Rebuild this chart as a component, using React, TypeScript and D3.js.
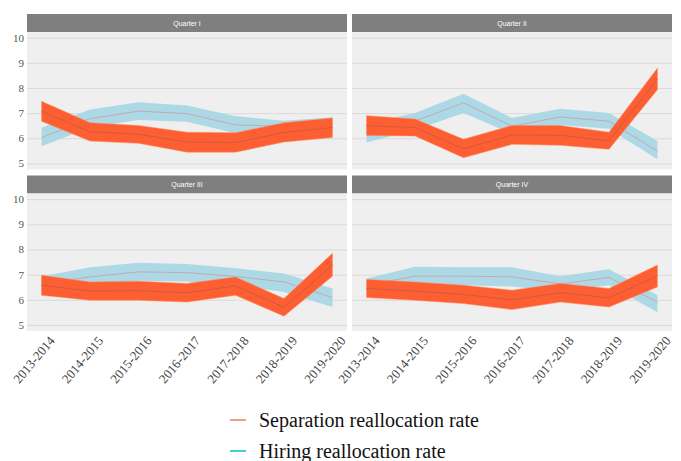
import React from "react";
import * as d3 from "d3";

const periods = ["2013-2014", "2014-2015", "2015-2016", "2016-2017", "2017-2018", "2018-2019", "2019-2020"];
const quarters = ["Quarter I", "Quarter II", "Quarter III", "Quarter IV"];
const yTicks = [5, 6, 7, 8, 9, 10];
const seriesNames = ["Separation reallocation rate", "Hiring reallocation rate"];

const sepQ1 = [7.1, 6.28, 6.18, 5.87, 5.85, 6.25, 6.45];
const sepQ1Lo = [6.7, 5.91, 5.82, 5.47, 5.47, 5.87, 6.05];
const sepQ1Hi = [7.49, 6.64, 6.53, 6.26, 6.24, 6.64, 6.83];
const hirQ1 = [6.05, 6.8, 7.1, 7.0, 6.55, 6.5, 6.55];
const hirQ1Lo = [5.7, 6.45, 6.75, 6.68, 6.22, 6.28, 6.25];
const hirQ1Hi = [6.44, 7.16, 7.45, 7.32, 6.9, 6.72, 6.86];

const sepQ2 = [6.52, 6.45, 5.6, 6.15, 6.14, 5.92, 8.38];
const sepQ2Lo = [6.13, 6.11, 5.25, 5.78, 5.74, 5.58, 7.95];
const sepQ2Hi = [6.92, 6.79, 5.98, 6.53, 6.53, 6.26, 8.81];
const hirQ2 = [6.2, 6.7, 7.43, 6.5, 6.87, 6.7, 5.51];
const hirQ2Lo = [5.85, 6.35, 7.03, 6.2, 6.55, 6.4, 5.19];
const hirQ2Hi = [6.6, 7.03, 7.79, 6.83, 7.19, 7.03, 5.91];

const sepQ3 = [6.6, 6.37, 6.38, 6.3, 6.57, 5.72, 7.4];
const sepQ3Lo = [6.2, 6.0, 6.0, 5.93, 6.2, 5.37, 6.96];
const sepQ3Hi = [7.0, 6.73, 6.76, 6.67, 6.93, 6.07, 7.87];
const hirQ3 = [6.65, 6.93, 7.13, 7.1, 6.95, 6.73, 6.11];
const hirQ3Lo = [6.35, 6.6, 6.78, 6.75, 6.6, 6.33, 5.73];
const hirQ3Hi = [6.95, 7.31, 7.49, 7.44, 7.27, 7.07, 6.47];

const sepQ4 = [6.47, 6.37, 6.23, 6.02, 6.3, 6.1, 6.97];
const sepQ4Lo = [6.11, 6.0, 5.87, 5.63, 5.93, 5.73, 6.53];
const sepQ4Hi = [6.83, 6.73, 6.6, 6.4, 6.67, 6.47, 7.4];
const hirQ4 = [6.6, 6.96, 6.96, 6.93, 6.65, 6.91, 5.93];
const hirQ4Lo = [6.3, 6.6, 6.6, 6.55, 6.35, 6.6, 5.53];
const hirQ4Hi = [6.87, 7.33, 7.31, 7.31, 6.96, 7.23, 6.2];

const panelData = [
  { sep: sepQ1, sepLo: sepQ1Lo, sepHi: sepQ1Hi, hir: hirQ1, hirLo: hirQ1Lo, hirHi: hirQ1Hi },
  { sep: sepQ2, sepLo: sepQ2Lo, sepHi: sepQ2Hi, hir: hirQ2, hirLo: hirQ2Lo, hirHi: hirQ2Hi },
  { sep: sepQ3, sepLo: sepQ3Lo, sepHi: sepQ3Hi, hir: hirQ3, hirLo: hirQ3Lo, hirHi: hirQ3Hi },
  { sep: sepQ4, sepLo: sepQ4Lo, sepHi: sepQ4Hi, hir: hirQ4, hirLo: hirQ4Lo, hirHi: hirQ4Hi },
];

const W = 681, H = 461;
const colX = [[27, 347], [352, 672]];
const stripH = 18;
const rowTop = [14, 175.5];
const bodyH = 137.5;

const SERIF = "'Liberation Serif', 'Times New Roman', serif";
const SANS = "'Liberation Sans', Arial, sans-serif";

const SEP_FILL = "#fd5f33";
const SEP_LINE = "#cf5a3e";
const HIR_FILL = "#add8e6";
const HIR_LINE = "#c3aab3";

function Panel({ idx }: { idx: number }) {
  const col = idx % 2, row = Math.floor(idx / 2);
  const [x0, x1] = colX[col];
  const top = rowTop[row];
  const by0 = top + stripH, by1 = by0 + bodyH;
  const x = d3.scaleLinear().domain([-0.3, periods.length - 1 + 0.3]).range([x0, x1]);
  const y = d3.scaleLinear().domain([4.78, 10.245]).range([by1, by0]);
  const d = panelData[idx];
  const idxs = d3.range(periods.length);
  const area = (lo: number[], hi: number[]) =>
    d3.area<number>().x((i) => x(i)).y0((i) => y(lo[i])).y1((i) => y(hi[i]))(idxs) || "";
  const line = (v: number[]) => d3.line<number>().x((i) => x(i)).y((i) => y(v[i]))(idxs) || "";
  return (
    <g>
      <rect x={x0} y={top} width={x1 - x0} height={stripH} fill="#7f7f7f" />
      <text x={(x0 + x1) / 2} y={top + stripH / 2 + 2.5} textAnchor="middle" fill="#ffffff"
        style={{ fontFamily: SANS }} fontSize={7}>{quarters[idx]}</text>
      <rect x={x0} y={by0} width={x1 - x0} height={bodyH} fill="#efefef" />
      {yTicks.map((t) => (
        <line key={t} x1={x0} x2={x1} y1={y(t)} y2={y(t)} stroke="#dadada" strokeWidth={1} />
      ))}
      <path d={area(d.hirLo, d.hirHi)} fill={HIR_FILL} />
      <path d={line(d.hir)} fill="none" stroke={HIR_LINE} strokeWidth={1} />
      <path d={area(d.sepLo, d.sepHi)} fill={SEP_FILL} stroke="#ff8a5a" strokeWidth={0.5} />
      <path d={line(d.sep)} fill="none" stroke={SEP_LINE} strokeWidth={1} />
      {col === 0 && yTicks.map((t) => (
        <text key={t} x={x0 - 3} y={y(t) + 3.5} textAnchor="end" fill="#555555"
          style={{ fontFamily: SERIF }} fontSize={11}>{t}</text>
      ))}
      {row === 1 && periods.map((p, i) => (
        <text key={p} transform={`translate(${x(i) + 14},${by1 + 10}) rotate(-50)`} textAnchor="end"
          fill="#444444" style={{ fontFamily: SERIF }} fontSize={13}>{p}</text>
      ))}
    </g>
  );
}

export default function App() {
  const legendColors = ["#f8766d", "#00bfc4"];
  const legendY = [420, 451];
  return (
    <div style={{ position: "absolute", left: 0, top: 0 }}>
      <svg width={W} height={H} style={{ display: "block", background: "#ffffff" }}>
        {quarters.map((q, i) => <Panel key={q} idx={i} />)}
        {seriesNames.map((s, i) => (
          <g key={s}>
            <line x1={230} x2={246} y1={legendY[i]} y2={legendY[i]} stroke={legendColors[i]} strokeWidth={1.5} />
            <text x={259} y={legendY[i] + 7} fill="#111111"
              style={{ fontFamily: SERIF }} fontSize={20}>{s}</text>
          </g>
        ))}
      </svg>
    </div>
  );
}
